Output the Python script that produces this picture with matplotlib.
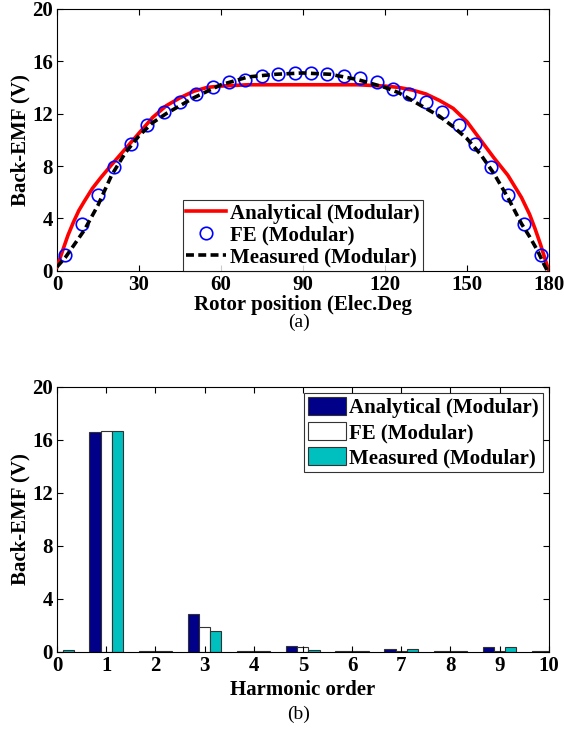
import numpy as np
import matplotlib
matplotlib.use("Agg")
import matplotlib.pyplot as plt

plt.rcParams['font.family'] = ['Liberation Serif', 'DejaVu Serif']
plt.rcParams['font.weight'] = 'bold'
plt.rcParams['axes.labelweight'] = 'bold'

# ---- (a) back-EMF waveform ----
ana_x = [0, 2, 4, 6, 8, 10, 13, 16, 20, 25, 30, 35, 40, 45, 50, 55, 60, 70, 80, 90, 100, 110, 120,
         125, 130, 135, 140, 145, 150, 155, 160, 165, 170, 173, 175, 177, 178.5, 180]
ana_y = [0.3, 1.5, 2.7, 3.7, 4.6, 5.3, 6.3, 7.1, 8.1, 9.3, 10.5, 11.7, 12.6, 13.2, 13.7, 14.0, 14.1,
         14.2, 14.2, 14.2, 14.2, 14.2, 14.1, 14.0, 13.8, 13.5, 13.0, 12.4, 11.4, 10.0, 8.6, 7.3,
         5.6, 4.3, 3.2, 2.0, 1.0, 0.0]

fe_x = [3, 9, 15, 21, 27, 33, 39, 45, 51, 57, 63, 69, 75, 81, 87, 93, 99, 105, 111, 117,
        123, 129, 135, 141, 147, 153, 159, 165, 171, 177]
fe_y = [1.2, 3.6, 5.8, 7.9, 9.7, 11.1, 12.1, 12.9, 13.5, 14.0, 14.4, 14.6, 14.9, 15.0, 15.1,
        15.1, 15.0, 14.9, 14.7, 14.4, 13.9, 13.5, 12.9, 12.1, 11.1, 9.7, 7.9, 5.8, 3.6, 1.2]

mea_x = [0, 3, 6, 10, 15, 20, 25, 30, 35, 40, 45, 50, 55, 60, 65, 70, 80, 90, 100, 110, 115,
         120, 125, 130, 135, 140, 145, 150, 155, 160, 165, 170, 173, 176, 178, 179.5]
mea_y = [0.3, 1.0, 1.9, 3.1, 5.0, 7.3, 9.0, 10.3, 11.3, 12.0, 12.6, 13.2, 13.7, 14.2, 14.5, 14.8,
         15.0, 15.1, 15.0, 14.6, 14.3, 14.0, 13.6, 13.0, 12.4, 11.8, 11.0, 10.1, 8.9, 7.4, 5.6,
         3.6, 2.6, 1.5, 0.6, 0.0]

# ---- (b) harmonic spectrum ----
orders = [0, 1, 2, 3, 4, 5, 6, 7, 8, 9, 10]
h_ana = [0.0, 16.6, 0.05, 2.85, 0.05, 0.45, 0.05, 0.25, 0.05, 0.35, 0.05]
h_fe = [0.0, 16.7, 0.05, 1.9, 0.05, 0.35, 0.05, 0.1, 0.05, 0.05, 0.05]
h_mea = [0.18, 16.7, 0.05, 1.55, 0.05, 0.12, 0.05, 0.25, 0.05, 0.35, 0.05]

fig = plt.figure(figsize=(5.64, 7.3), dpi=100)
fs = 15

def style(ax):
    ax.tick_params(direction='in', top=True, right=True, labelsize=fs, length=4, width=0.8, pad=3)
    for s in ax.spines.values():
        s.set_linewidth(0.8)
    for lab in ax.get_xticklabels() + ax.get_yticklabels():
        lab.set_fontweight('bold')

ax1 = fig.add_axes([0.101, 0.629, 0.872, 0.359])
ax1.plot(ana_x, ana_y, color='red', lw=2.6, label='Analytical (Modular)', zorder=3)
ax1.plot(fe_x, fe_y, 'o', mfc='none', mec='blue', ms=9, mew=1.2, label='FE (Modular)', zorder=4)
ax1.plot(mea_x, mea_y, '--', color='black', lw=2.6, dashes=(2.2, 1.2), label='Measured (Modular)', zorder=5)
ax1.set_xlim(0, 180)
ax1.set_ylim(0, 20)
ax1.set_xticks(range(0, 181, 30))
ax1.set_yticks(range(0, 21, 4))
ax1.set_ylabel('Back-EMF (V)', fontsize=fs, labelpad=1)
ax1.set_xlabel('Rotor position (Elec.Deg', fontsize=fs, labelpad=0)
style(ax1)
leg1 = ax1.legend(loc='lower center', bbox_to_anchor=(0.5, 0.0), fontsize=fs, frameon=True,
                  fancybox=False, edgecolor='black', handlelength=1.9, handletextpad=0.2,
                  borderpad=0.15, labelspacing=0.1, borderaxespad=0.0)
leg1.get_frame().set_linewidth(0.8)
fig.text(0.53, 1 - 322 / 730, '(a)', ha='center', va='center', fontsize=fs - 1, fontweight='normal')

ax2 = fig.add_axes([0.101, 0.107, 0.872, 0.363])
x = np.array(orders)
w = 0.227
ax2.bar(x - w, h_ana, w, color='#000088', edgecolor='#333333', lw=0.8, label='Analytical (Modular)')
ax2.bar(x, h_fe, w, color='white', edgecolor='#333333', lw=0.8, label='FE (Modular)')
ax2.bar(x + w, h_mea, w, color='#00BFBF', edgecolor='#333333', lw=0.8, label='Measured (Modular)')
ax2.set_xlim(0, 10)
ax2.set_ylim(0, 20)
ax2.set_xticks(orders)
ax2.set_yticks(range(0, 21, 4))
ax2.set_ylabel('Back-EMF (V)', fontsize=fs, labelpad=1)
ax2.set_xlabel('Harmonic order', fontsize=fs, labelpad=3)
style(ax2)
leg2 = ax2.legend(loc='upper right', fontsize=fs, frameon=True, fancybox=False, edgecolor='black',
                  handlelength=1.8, handleheight=0.9, handletextpad=0.15, borderpad=0.2,
                  labelspacing=0.2, borderaxespad=0.3)
leg2.get_frame().set_linewidth(0.8)
fig.text(0.53, 1 - 714 / 730, '(b)', ha='center', va='center', fontsize=fs - 1, fontweight='normal')

fig.savefig('out.png', dpi=100)
